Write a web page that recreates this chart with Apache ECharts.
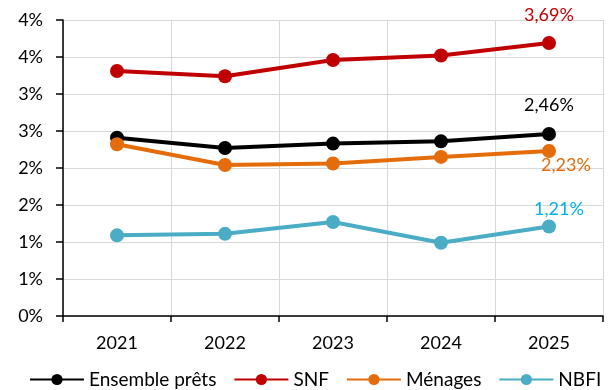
<!DOCTYPE html>
<html>
<head>
<meta charset="utf-8">
<script src="https://cdn.jsdelivr.net/npm/echarts@6/dist/echarts.min.js"></script>
<style>
  html, body { margin: 0; padding: 0; background: #fff; }
  #chart { width: 610px; height: 390px; }
</style>
</head>
<body>
<div id="chart"></div>
<script>
// Years on the horizontal axis
const years = ['2021', '2022', '2023', '2024', '2025'];

// Rates in percent, one array per borrower group
const ensemblePrets = [2.41, 2.27, 2.33, 2.36, 2.46];
const snf = [3.31, 3.24, 3.46, 3.52, 3.69];
const menages = [2.32, 2.04, 2.06, 2.15, 2.23];
const nbfi = [1.09, 1.11, 1.27, 0.99, 1.21];

const FONT = 'Lato';

const fmtPct = v => v.toFixed(2).replace('.', ',') + '%';

// Only the last point of each line carries a value label
function withEndLabel(values, labelOpts) {
  return values.map((v, i) => {
    if (i !== values.length - 1) return v;
    return {
      value: v,
      label: Object.assign({
        show: true,
        fontFamily: FONT,
        fontSize: 18,
        formatter: p => fmtPct(p.value)
      }, labelOpts)
    };
  });
}

function lineSeries(name, color, data) {
  return {
    name: name,
    type: 'line',
    data: data,
    symbol: 'circle',
    symbolSize: 14,
    lineStyle: { color: color, width: 4 },
    itemStyle: { color: color },
    emphasis: { disabled: true },
    animation: false,
    z: 3
  };
}

const chart = echarts.init(document.getElementById('chart'), null, { renderer: 'canvas' });

chart.setOption({
  backgroundColor: '#ffffff',
  animation: false,
  grid: { left: 63, right: 7, top: 20, bottom: 74, containLabel: false },
  legend: {
    bottom: 1,
    left: 29,
    padding: 0,
    itemWidth: 54,
    itemHeight: 14,
    itemGap: 17,
    textStyle: { fontFamily: FONT, fontSize: 19, color: '#000' },
    data: ['Ensemble prêts', 'SNF', 'Ménages', 'NBFI']
  },
  xAxis: {
    type: 'category',
    data: years,
    boundaryGap: true,
    axisLine: { show: true, lineStyle: { color: '#000', width: 1.5 } },
    axisTick: { show: true, length: 6, lineStyle: { color: '#000', width: 1.5 } },
    axisLabel: { fontFamily: FONT, fontSize: 18, color: '#000', margin: 18 },
    splitLine: { show: true, lineStyle: { color: '#d9d9d9', width: 1 } }
  },
  yAxis: {
    type: 'value',
    min: 0,
    max: 4,
    interval: 0.5,
    axisLine: { show: true, lineStyle: { color: '#000', width: 1.5 } },
    axisTick: { show: true, length: 7, lineStyle: { color: '#000', width: 1.5 } },
    axisLabel: {
      fontFamily: FONT, fontSize: 18, color: '#000', margin: 20,
      formatter: v => Math.round(v) + '%'
    },
    splitLine: { show: true, lineStyle: { color: '#d9d9d9', width: 1 } }
  },
  series: [
    lineSeries('Ensemble prêts', '#000000',
      withEndLabel(ensemblePrets, { position: 'top', distance: 13, color: '#000000' })),
    lineSeries('SNF', '#c00000',
      withEndLabel(snf, { position: 'top', distance: 12, color: '#c00000' })),
    lineSeries('Ménages', '#e46c0a',
      withEndLabel(menages, { position: 'bottom', distance: 0, offset: [17, -2], color: '#e46c0a' })),
    lineSeries('NBFI', '#4bacc6',
      withEndLabel(nbfi, { position: 'top', distance: 1, offset: [10, 0], color: '#00b0f0' }))
  ]
});
</script>
</body>
</html>
